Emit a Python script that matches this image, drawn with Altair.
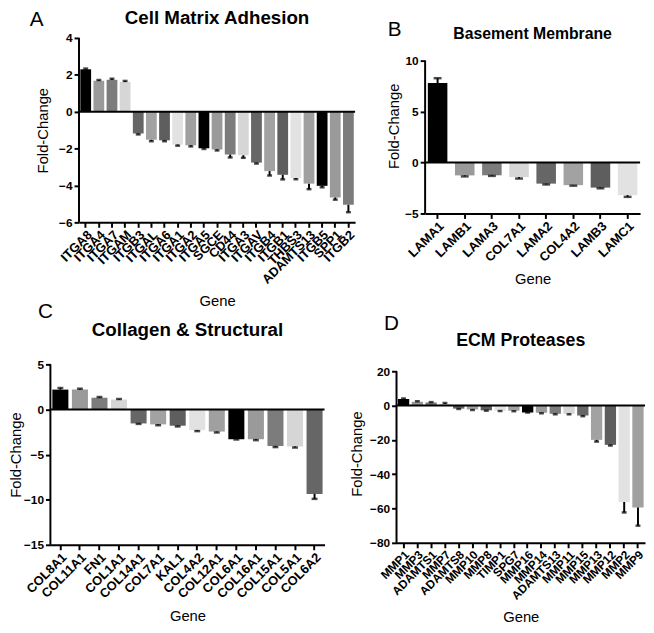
import altair as alt
import pandas as pd

# ---------------- data ----------------
genes_a = ["ITGA8", "ITGA4", "ITGA7", "ITGAM", "ITGB3", "ITGAL", "ITGA6", "ITGA1", "ITGA2",
           "ITGA5", "SGCE", "CD44", "ITGA3", "ITGAV", "ITGB4", "ITGB1", "THBS3", "ADAMTS13",
           "ITGB5", "SPP1", "ITGB2"]
vals_a = [2.3, 1.68, 1.73, 1.62, -1.18, -1.52, -1.55, -1.78, -1.82, -1.98, -2.05, -2.32, -2.36,
          -2.76, -3.22, -3.42, -3.6, -3.9, -4.02, -4.65, -5.05]
sem_a = [0.04, 0.04, 0.06, 0.05, 0.05, 0.08, 0.05, 0.06, 0.06, 0.04, 0.05, 0.16, 0.14,
         0.05, 0.24, 0.25, 0.06, 0.3, 0.08, 0.12, 0.4]

genes_b = ["LAMA1", "LAMB1", "LAMA3", "COL7A1", "LAMA2", "COL4A2", "LAMB3", "LAMC1"]
vals_b = [7.8, -1.26, -1.25, -1.43, -2.07, -2.22, -2.46, -3.2]
sem_b = [0.48, 0.1, 0.06, 0.14, 0.08, 0.05, 0.07, 0.17]

genes_c = ["COL8A1", "COL11A1", "FN1", "COL1A1", "COL14A1", "COL7A1", "KAL1", "COL4A2",
           "COL12A1", "COL6A1", "COL16A1", "COL15A1", "COL5A1", "COL6A2"]
vals_c = [2.2, 2.2, 1.3, 1.1, -1.55, -1.65, -1.8, -2.3, -2.45, -3.3, -3.3, -4.05, -4.1, -9.36]
sem_c = [0.18, 0.1, 0.08, 0.06, 0.05, 0.1, 0.08, 0.1, 0.1, 0.03, 0.1, 0.12, 0.12, 0.55]

genes_d = ["MMP1", "MMP3", "ADAMTS1", "MMP7", "ADAMTS8", "MMP10", "MMP8", "TIMP1", "SPG7",
           "MMP16", "MMP14", "ADAMTS13", "MMP11", "MMP15", "MMP13", "MMP12", "MMP2", "MMP9"]
vals_d = [3.8, 2.2, 1.8, 1.0, -1.8, -2.3, -2.8, -3.0, -3.0, -4.0, -4.2, -4.8, -4.8, -5.8,
          -20.0, -22.9, -56.2, -59.4]
sem_d = [0.3, 0.3, 0.2, 0.5, 0.2, 0.3, 0.2, 0.2, 0.3, 0.1, 0.3, 0.3, 0.3, 0.4,
         1.0, 0.4, 6.1, 10.6]

# GraphPad-style greyscale cycle
palette = ["#000000", "#9a9a9a", "#7c7c7c", "#d6d6d6", "#666666",
           "#a2a2a2", "#5e5e5e", "#e2e2e2", "#a0a0a0"]

FONT = "Liberation Sans"


def panel(genes, vals, sems, title, letter, ydom, yticks, w, h, cap, letter_xy,
          title_size, title_offset, ytitle_pad, xlabel_size, pad_inner=0.18,
          top_extra=0.0):
    df = pd.DataFrame({
        "gene": genes,
        "value": vals,
        "end": [v + (s if v >= 0 else -s) for v, s in zip(vals, sems)],
        "shade": [palette[i % len(palette)] for i in range(len(genes))],
    })
    scale_dom = [ydom[0], ydom[1] + top_extra]
    xaxis = alt.Axis(labelAngle=-45, labelOverlap=False, labelFontSize=xlabel_size,
                     labelFontWeight="bold", labelPadding=1, titlePadding=8, title="Gene")
    xenc = alt.X("gene:N", sort=genes, title="Gene",
                 scale=alt.Scale(paddingInner=pad_inner, paddingOuter=0.1), axis=xaxis)
    yscale = alt.Scale(domain=scale_dom, nice=False, zero=False)
    yaxis = alt.Axis(values=yticks, title="Fold-Change", labelFontSize=12,
                     labelFontWeight="bold", labelOverlap=False, labelPadding=2,
                     titlePadding=ytitle_pad, domain=False)

    def Y(field):
        return alt.Y(field, scale=yscale, axis=yaxis, title="Fold-Change")

    base = alt.Chart(df)
    bars = base.mark_bar().encode(
        x=xenc, y=Y("value:Q"), color=alt.Color("shade:N", scale=None))
    err = base.mark_rule(color="black", strokeWidth=2).encode(
        x=xenc, y=Y("value:Q"), y2="end:Q")
    caps = base.mark_tick(color="black", thickness=2.5, size=cap).encode(
        x=xenc, y=Y("end:Q"))
    frame = pd.DataFrame({"lo": [ydom[0]], "hi": [ydom[1]], "z": [0]})
    zero = alt.Chart(frame).mark_rule(color="black", strokeWidth=2).encode(y=Y("z:Q"))
    yline = alt.Chart(frame).mark_rule(color="black", strokeWidth=2).encode(
        x=alt.value(0), y=Y("lo:Q"), y2="hi:Q")
    lab = alt.Chart(pd.DataFrame({"t": [letter]})).mark_text(
        fontSize=21, font=FONT, color="black", align="center", baseline="middle"
    ).encode(text="t:N", x=alt.value(letter_xy[0]), y=alt.value(letter_xy[1]))
    return alt.layer(bars, err, caps, zero, yline, lab).properties(
        width=w, height=h,
        title=alt.TitleParams(title, fontSize=title_size, fontWeight="bold",
                              font=FONT, anchor="middle", offset=title_offset, color="black"),
    )


pa = panel(genes_a, vals_a, sem_a, "Cell Matrix Adhesion", "A", [-6, 4],
           [-6, -4, -2, 0, 2, 4], 280, 187, 5, (-43, -18),
           title_size=19, title_offset=-18.5, ytitle_pad=8, xlabel_size=13)
pb = panel(genes_b, vals_b, sem_b, "Basement Membrane", "B", [-5, 10],
           [-5, 0, 5, 10], 218, 178, 8, (-31, -8),
           title_size=16, title_offset=-23.5, ytitle_pad=3, xlabel_size=13,
           pad_inner=0.28, top_extra=2.23)
pc = panel(genes_c, vals_c, sem_c, "Collagen & Structural", "C", [-15, 5],
           [-15, -10, -5, 0, 5], 278, 183, 6, (-5, -53),
           title_size=19, title_offset=-39.5, ytitle_pad=0, xlabel_size=13)
pd_ = panel(genes_d, vals_d, sem_d, "ECM Proteases", "D", [-80, 20],
            [-80, -60, -40, -20, 0, 20], 252, 181, 5, (-5, -41),
            title_size=18, title_offset=-37.5, ytitle_pad=5, xlabel_size=12,
            top_extra=4.0)

# tiny empty view that lets the top row start further right than the bottom row
gap = alt.Chart(pd.DataFrame({"t": [0]})).mark_point(opacity=0, size=1).encode(
    x=alt.value(0), y=alt.value(0)).properties(width=2, height=2)

pair_top = alt.hconcat(pa, pb, spacing=30).resolve_scale(x="independent", y="independent")
top = alt.hconcat(gap, pair_top, spacing=-24).resolve_scale(x="independent", y="independent")
bottom = alt.hconcat(pc, pd_, spacing=24).resolve_scale(x="independent", y="independent")

chart = alt.vconcat(top, bottom, spacing=-8).resolve_scale(
    x="independent", y="independent"
).properties(padding={"left": 0, "top": -4, "right": 0, "bottom": 0}).configure(
    font=FONT, background="white"
).configure_view(stroke=None).configure_axis(
    grid=False, domainColor="black", domainWidth=2, tickColor="black", tickWidth=2,
    tickSize=5, labelColor="black", titleColor="black", labelFont=FONT, titleFont=FONT,
    titleFontSize=15, titleFontWeight="normal", labelOverlap=False,
)

chart.save("out.html", embed_options={"renderer": "svg", "actions": False})
